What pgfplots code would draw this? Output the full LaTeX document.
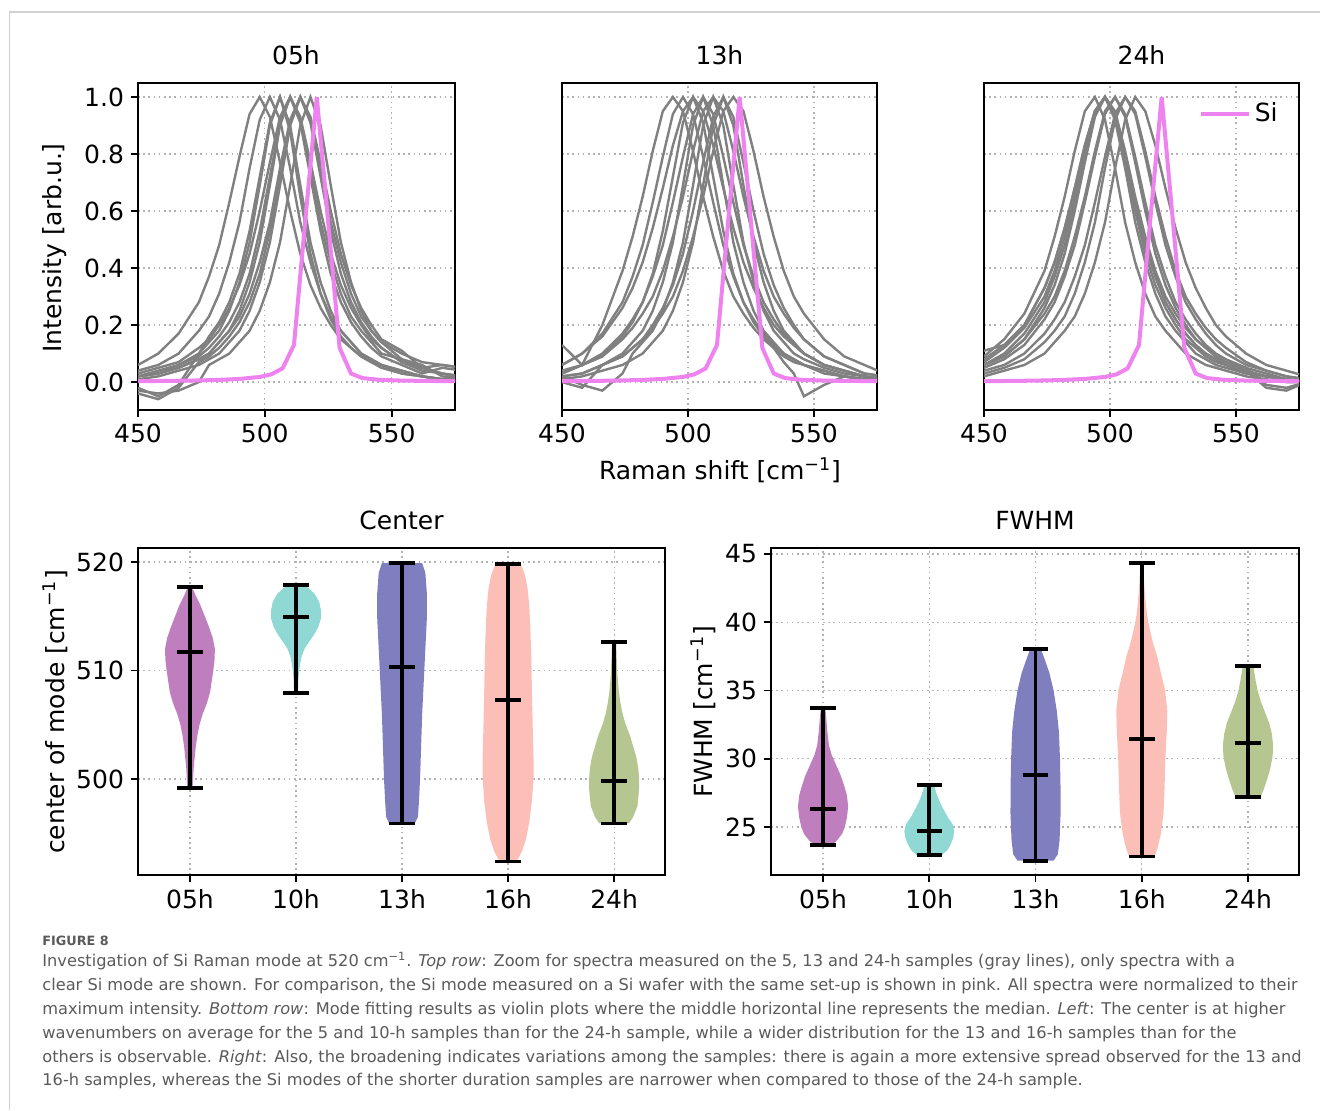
\documentclass[border=0pt]{standalone}
\usepackage{fontspec}
\setmainfont{DejaVu Sans}
\usepackage{pgfplots}
\usepackage{pgfplotstable}
\pgfplotsset{compat=1.18}

\definecolor{vpurple}{RGB}{191,127,191}
\definecolor{vteal}{RGB}{143,216,212}
\definecolor{vnavy}{RGB}{127,127,191}
\definecolor{vsalmon}{RGB}{252,191,184}
\definecolor{volive}{RGB}{181,198,145}
\definecolor{siviolet}{RGB}{238,130,238}
\definecolor{capgray}{RGB}{90,90,90}

\newcommand\fs{\fontsize{12.5}{15}\selectfont}
\newcommand\capfs{\fontsize{8.1}{10}\selectfont}

% spectra: one row per spectrum, transposed below
\pgfplotstableread{
x 450 458 466 474 478 482 486 490 494 498 502 506 510 514 518 522 526 530 534 538 542 546 554 562 570 578
A1 0.06 0.10 0.17 0.28 0.37 0.48 0.63 0.79 0.94 1 0.93 0.77 0.60 0.45 0.34 0.26 0.20 0.15 0.12 0.09 0.07 0.06 0.03 0.02 0.01 0.00
A2 0.04 0.06 0.10 0.18 0.23 0.31 0.42 0.56 0.75 0.92 1 0.92 0.75 0.56 0.42 0.31 0.23 0.18 0.14 0.10 0.08 0.06 0.04 0.02 0.01 0.00
A3 -0.02 -0.05 -0.01 0.10 0.16 0.21 0.28 0.38 0.53 0.72 0.91 1 0.88 0.65 0.45 0.31 0.22 0.16 0.12 0.09 0.07 0.05 0.03 0.02 0.01 0.00
A4 0.02 0.03 0.06 0.09 0.12 0.16 0.21 0.28 0.38 0.53 0.72 0.91 1 0.91 0.72 0.53 0.38 0.28 0.21 0.16 0.12 0.09 0.06 0.03 0.05 0.04
A5 0.03 0.05 0.07 0.12 0.15 0.20 0.26 0.34 0.45 0.60 0.77 0.93 1 0.93 0.77 0.60 0.45 0.34 0.26 0.20 0.15 0.12 0.07 0.05 0.06 0.05
A6 0.02 0.03 0.05 0.08 0.10 0.14 0.18 0.25 0.35 0.49 0.69 0.90 1 0.92 0.75 0.56 0.42 0.31 0.23 0.18 0.14 0.10 0.08 0.06 0.02 0.01
A7 -0.04 -0.06 -0.02 0.07 0.09 0.12 0.16 0.21 0.28 0.38 0.53 0.72 0.91 1 0.91 0.72 0.53 0.38 0.28 0.21 0.16 0.12 0.07 0.04 0.03 0.01
A8 0.01 0.02 0.04 0.06 0.08 0.10 0.14 0.18 0.25 0.35 0.49 0.69 0.90 1 0.93 0.77 0.60 0.45 0.34 0.26 0.20 0.15 0.11 0.05 0.03 0.02
A9 0.02 0.03 0.05 0.08 0.10 0.14 0.18 0.23 0.31 0.42 0.56 0.75 0.92 1 0.92 0.75 0.56 0.42 0.31 0.23 0.18 0.14 0.10 0.07 0.06 0.05
A10 -0.03 -0.04 -0.03 0.00 0.06 0.08 0.10 0.14 0.18 0.25 0.35 0.49 0.69 0.90 1 0.90 0.69 0.49 0.35 0.25 0.18 0.14 0.08 0.05 0.03 0.02
A11 0.02 0.04 0.06 0.10 0.14 0.18 0.25 0.35 0.49 0.69 0.90 1 0.90 0.69 0.49 0.35 0.25 0.18 0.14 0.10 0.08 0.06 0.04 0.02 0.01 0.01
}\rawA
\pgfplotstabletranspose[colnames from=x]\specA\rawA

\pgfplotstableread{
x 450 458 466 474 478 482 486 490 494 498 502 506 510 514 518 522 526 530 534 538 542 546 554 562 570 578
B1 0.13 0.06 0.20 0.39 0.51 0.65 0.81 0.95 1 0.95 0.81 0.65 0.51 0.39 0.30 0.24 0.19 0.15 0.12 0.09 0.07 0.06 0.03 0.02 0.01 0.00
B2 0.06 0.10 0.17 0.28 0.37 0.48 0.63 0.79 0.94 1 0.94 0.79 0.63 0.48 0.37 0.28 0.22 0.17 0.13 0.10 0.08 0.06 0.04 0.02 0.01 0.00
B3 0.06 0.10 0.16 0.26 0.33 0.42 0.54 0.68 0.83 0.95 1 0.95 0.83 0.68 0.54 0.42 0.33 0.26 0.20 0.16 0.13 0.10 0.06 0.04 0.02 0.01
B4 0.03 0.06 0.09 0.16 0.21 0.28 0.38 0.53 0.72 0.91 1 0.91 0.72 0.53 0.38 0.28 0.21 0.16 0.12 0.07 0.03 -0.05 -0.01 0.02 0.01 0.00
B5 0.04 0.06 0.10 0.17 0.22 0.28 0.37 0.48 0.63 0.79 0.94 1 0.94 0.79 0.63 0.48 0.37 0.28 0.22 0.17 0.13 0.10 0.06 0.04 0.02 0.01
B6 0.00 -0.02 0.06 0.10 0.14 0.18 0.25 0.35 0.49 0.69 0.90 1 0.90 0.69 0.49 0.35 0.25 0.18 0.14 0.10 0.08 0.06 0.04 0.02 0.01 0.01
B7 0.03 0.06 0.09 0.15 0.19 0.24 0.30 0.39 0.51 0.65 0.81 0.95 1 0.95 0.81 0.65 0.51 0.39 0.30 0.24 0.19 0.15 0.09 0.06 0.03 0.02
B8 0.02 -0.01 -0.03 0.03 0.10 0.14 0.18 0.25 0.35 0.49 0.69 0.90 1 0.90 0.69 0.49 0.35 0.25 0.18 0.14 0.10 0.08 0.05 0.03 0.02 0.01
B9 0.02 0.03 0.06 0.09 0.12 0.15 0.20 0.26 0.34 0.45 0.60 0.77 0.93 1 0.93 0.77 0.60 0.45 0.34 0.26 0.20 0.15 0.09 0.06 0.03 0.02
B10 0.02 0.03 0.06 0.09 0.12 0.15 0.19 0.24 0.30 0.39 0.51 0.65 0.81 0.95 1 0.95 0.81 0.65 0.51 0.39 0.30 0.24 0.15 0.09 0.06 0.03
B11 0.01 0.02 0.04 0.06 0.08 0.10 0.14 0.18 0.25 0.35 0.49 0.69 0.90 1 0.90 0.69 0.49 0.35 0.25 0.18 0.14 0.10 0.06 0.04 0.02 0.01
}\rawB
\pgfplotstabletranspose[colnames from=x]\specB\rawB

\pgfplotstableread{
x 450 458 466 474 478 482 486 490 494 498 502 506 510 514 518 522 526 530 534 538 542 546 554 562 570 578
C1 0.09 0.15 0.24 0.39 0.51 0.65 0.81 0.95 1 0.92 0.75 0.56 0.42 0.31 0.23 0.18 0.14 0.10 0.08 0.06 0.05 0.04 0.02 0.01 0.00 0.00
C2 0.08 0.13 0.20 0.33 0.42 0.54 0.68 0.83 0.95 1 0.93 0.77 0.60 0.45 0.34 0.26 0.20 0.15 0.12 0.09 0.07 0.06 0.03 0.02 0.01 0.00
C3 0.07 0.12 0.19 0.30 0.39 0.51 0.65 0.81 0.95 1 0.94 0.79 0.63 0.48 0.37 0.28 0.22 0.17 0.13 0.10 0.08 0.06 0.04 -0.02 -0.03 0.00
C4 0.06 0.10 0.17 0.28 0.37 0.48 0.63 0.79 0.94 1 0.92 0.75 0.56 0.42 0.31 0.23 0.18 0.14 0.10 0.08 0.06 0.05 0.03 0.02 0.01 0.00
C5 0.11 0.13 0.20 0.33 0.42 0.54 0.68 0.83 0.95 1 0.95 0.81 0.65 0.51 0.39 0.30 0.24 0.19 0.15 0.12 0.09 0.07 0.04 0.02 0.01 0.00
C6 0.06 0.09 0.15 0.24 0.30 0.39 0.51 0.65 0.81 0.95 1 0.93 0.77 0.60 0.45 0.34 0.26 0.20 0.15 0.12 0.09 0.07 0.05 0.03 0.01 0.00
C7 0.05 0.08 0.13 0.22 0.28 0.37 0.48 0.63 0.79 0.94 1 0.94 0.79 0.63 0.48 0.37 0.28 0.22 0.17 0.13 0.10 0.08 0.05 -0.01 -0.02 0.00
C8 0.06 0.09 0.15 0.26 0.34 0.45 0.60 0.77 0.93 1 0.94 0.79 0.63 0.48 0.37 0.28 0.22 0.17 0.13 0.10 0.08 0.06 0.04 0.02 0.01 0.00
C9 0.03 0.05 0.08 0.14 0.18 0.23 0.31 0.42 0.56 0.75 0.92 1 0.95 0.81 0.65 0.51 0.39 0.30 0.24 0.19 0.15 0.12 0.07 0.04 0.02 0.01
C10 0.04 0.06 0.10 0.17 0.22 0.28 0.37 0.48 0.63 0.79 0.94 1 0.94 0.79 0.63 0.48 0.37 0.28 0.22 0.17 0.13 0.10 0.06 0.04 0.02 0.01
C11 0.02 0.04 0.06 0.10 0.14 0.18 0.23 0.31 0.42 0.56 0.75 0.92 1 0.95 0.83 0.68 0.54 0.42 0.33 0.26 0.20 0.16 0.10 0.06 0.04 0.02
}\rawC
\pgfplotstabletranspose[colnames from=x]\specC\rawC

% Si wafer reference
\pgfplotstableread{
x y
450 0.003
460 0.004
470 0.005
480 0.007
490 0.011
498 0.018
502.5 0.027
507 0.048
511.5 0.13
516 0.57
520.5 1.0
525 0.56
529.5 0.12
534 0.03
538.5 0.014
545 0.008
555 0.005
565 0.004
575 0.003
}\siref

% violin outlines: y, half width (closed on the centre line at both ends)
\pgfplotstableread{
y w
499.2 0
499.2 0.025
500.0 0.03
501.0 0.035
502.0 0.045
503.0 0.055
504.0 0.07
505.0 0.09
506.0 0.12
507.0 0.16
508.0 0.19
509.0 0.205
510.0 0.22
511.0 0.232
512.0 0.235
513.0 0.215
514.0 0.18
515.0 0.14
516.0 0.10
517.0 0.05
517.7 0.02
517.7 0
}\vcA
\pgfplotstableread{
y w
507.9 0
507.9 0.02
509.0 0.022
510.0 0.03
511.2 0.05
512.0 0.08
512.6 0.12
513.3 0.17
514.0 0.21
514.8 0.235
515.5 0.236
516.3 0.22
517.0 0.18
517.5 0.13
517.9 0.08
517.9 0
}\vcB
\pgfplotstableread{
y w
495.9 0
495.9 0.12
496.5 0.15
498 0.16
500 0.17
503 0.18
506 0.19
509 0.205
512 0.22
515 0.235
517 0.235
519 0.22
519.9 0.19
519.9 0
}\vcC
\pgfplotstableread{
y w
492.4 0
492.4 0.08
493.3 0.13
494.5 0.17
496 0.2
498 0.225
500 0.24
502 0.24
505 0.232
508 0.225
511 0.22
514 0.21
516 0.2
517.5 0.185
518.8 0.16
519.8 0.12
519.8 0
}\vcD
\pgfplotstableread{
y w
495.9 0
495.9 0.14
496.5 0.18
497.5 0.22
499 0.235
500 0.236
501 0.228
502 0.21
503 0.18
504 0.15
505 0.11
506 0.08
507 0.06
508 0.045
509.5 0.032
511 0.025
512.6 0.02
512.6 0
}\vcE

\pgfplotstableread{
y w
23.68 0
23.68 0.08
24.0 0.13
24.5 0.18
25.0 0.205
25.7 0.225
26.5 0.236
27.3 0.225
28.0 0.2
28.8 0.165
29.5 0.125
30.3 0.08
31.0 0.055
32.0 0.04
33.0 0.03
33.74 0.02
33.74 0
}\vfA
\pgfplotstableread{
y w
22.95 0
22.95 0.12
23.3 0.17
23.7 0.2
24.2 0.225
24.7 0.235
25.2 0.22
25.7 0.175
26.2 0.14
26.8 0.1
27.4 0.07
28.05 0.045
28.05 0
}\vfB
\pgfplotstableread{
y w
22.53 0
22.53 0.17
23.0 0.21
24.0 0.226
26.0 0.236
28.0 0.235
30.0 0.23
32.0 0.22
33.5 0.2
35.0 0.17
36.3 0.13
37.2 0.09
38.04 0.05
38.04 0
}\vfC
\pgfplotstableread{
y w
22.83 0
22.83 0.12
23.5 0.15
24.5 0.18
26 0.205
28 0.215
30 0.222
32 0.235
33.5 0.24
35 0.22
36.3 0.18
37.5 0.145
38.5 0.105
39.5 0.075
40.5 0.05
42 0.03
43.2 0.02
44.34 0.015
44.34 0
}\vfD
\pgfplotstableread{
y w
27.22 0
27.22 0.12
27.8 0.15
28.5 0.18
29.3 0.21
30.2 0.232
31.0 0.236
31.8 0.225
32.6 0.2
33.4 0.16
34.2 0.12
35.0 0.09
35.8 0.07
36.8 0.05
36.8 0
}\vfE

% #1 position, #2 colour, #3 outline table: right half and left half
\newcommand\violin[3]{%
  \addplot[fill=#2, draw=none, forget plot] table[x expr=#1+\thisrow{w}, y=y]{#3};
  \addplot[fill=#2, draw=none, forget plot] table[x expr=#1-\thisrow{w}, y=y]{#3};
}
% #1 position, #2 cap left, #3 cap right, #4 min, #5 median, #6 max
\newcommand\vstats[6]{%
  \addplot[vline] coordinates {(#1,#4) (#1,#6)};
  \addplot[vline] coordinates {(#2,#4) (#3,#4)};
  \addplot[vline] coordinates {(#2,#5) (#3,#5)};
  \addplot[vline] coordinates {(#2,#6) (#3,#6)};
}

\pgfplotsset{
  mpl/.style={
    scale only axis,
    axis line style={line width=1.1pt},
    tick align=outside,
    major tick length=3.5pt,
    every tick/.append style={black, line width=0.9pt},
    xtick pos=left, ytick pos=left,
    grid=major,
    major grid style={line width=0.6pt, black!30, dash pattern=on 0.8pt off 1.8pt},
    tick label style={font=\fs},
    /pgf/number format/assume math mode=true,
  },
  spec/.style={
    mpl, anchor=north west, height=163.5pt,
    xmin=450, xmax=575, ymin=-0.098, ymax=1.049,
    xtick={450,500,550}, ytick={0,0.2,0.4,0.6,0.8,1},
  },
  viol/.style={
    mpl, anchor=north west, height=163.5pt,
    xmin=0.51, xmax=5.48, xtick={1,2,3,4,5},
    xticklabels={05h,10h,13h,16h,24h},
  },
  gl/.style={color=gray, line width=1.2pt, forget plot},
  sil/.style={color=siviolet, line width=2pt},
  vline/.style={black, line width=1.9pt, forget plot},
}

\begin{document}
\begin{tikzpicture}
\useasboundingbox (0,0) rectangle (660pt,-555pt);
\draw[black!18, line width=0.8pt] (4.8pt,-555pt) -- (4.8pt,-6pt) -- (660pt,-6pt);

% top row
\begin{axis}[spec, at={(69pt,-41.5pt)}, width=158.5pt,
  yticklabel style={/pgf/number format/fixed, /pgf/number format/fixed zerofill, /pgf/number format/precision=1}]
\pgfplotsinvokeforeach{A1,A2,A3,A4,A5,A6,A7,A8,A9,A10,A11}{
  \addplot[gl] table[x=colnames, y=#1]{\specA};}
\addplot[sil] table[x=x, y=y]{\siref};
\end{axis}

\begin{axis}[spec, at={(281pt,-41.5pt)}, width=157.5pt,
  yticklabels={}, ytick style={draw=none}]
\pgfplotsinvokeforeach{B1,B2,B3,B4,B5,B6,B7,B8,B9,B10,B11}{
  \addplot[gl] table[x=colnames, y=#1]{\specB};}
\addplot[sil] table[x=x, y=y]{\siref};
\end{axis}

\begin{axis}[spec, at={(492pt,-41.5pt)}, width=157.5pt,
  yticklabels={}, ytick style={draw=none},
  legend style={at={(0.965,0.965)}, anchor=north east, draw=none, fill=none, font=\fs},
  legend image code/.code={\draw[#1] (0pt,0pt) -- (24pt,0pt);}]
\pgfplotsinvokeforeach{C1,C2,C3,C4,C5,C6,C7,C8,C9,C10,C11}{
  \addplot[gl] table[x=colnames, y=#1]{\specC};}
\addplot[sil] table[x=x, y=y]{\siref};
\addlegendentry{Si}
\end{axis}

% bottom row
\begin{axis}[viol, at={(69pt,-274pt)}, width=263.5pt,
  ymin=491.15, ymax=521.29, ytick={500,510,520}]
\violin{1}{vpurple}{\vcA}
\violin{2}{vteal}{\vcB}
\violin{3}{vnavy}{\vcC}
\violin{4}{vsalmon}{\vcD}
\violin{5}{volive}{\vcE}
\vstats{1}{0.88}{1.12}{499.2}{511.7}{517.7}
\vstats{2}{1.88}{2.12}{507.9}{514.9}{517.9}
\vstats{3}{2.88}{3.12}{495.9}{510.3}{519.9}
\vstats{4}{3.88}{4.12}{492.4}{507.3}{519.8}
\vstats{5}{4.88}{5.12}{495.9}{499.8}{512.6}
\end{axis}

\begin{axis}[viol, at={(385.5pt,-274pt)}, width=264pt,
  ymin=21.48, ymax=45.44, ytick={25,30,35,40,45}]
\violin{1}{vpurple}{\vfA}
\violin{2}{vteal}{\vfB}
\violin{3}{vnavy}{\vfC}
\violin{4}{vsalmon}{\vfD}
\violin{5}{volive}{\vfE}
\vstats{1}{0.88}{1.12}{23.68}{26.34}{33.74}
\vstats{2}{1.88}{2.12}{22.95}{24.73}{28.05}
\vstats{3}{2.88}{3.12}{22.53}{28.83}{38.04}
\vstats{4}{3.88}{4.12}{22.83}{31.42}{44.34}
\vstats{5}{4.88}{5.12}{27.22}{31.15}{36.8}
\end{axis}

% titles and labels
\begin{scope}[every node/.style={font=\fs, inner sep=0pt}]
\node at (148pt,-27.5pt) {05h};
\node at (359.75pt,-27.5pt) {13h};
\node at (570.75pt,-27.5pt) {24h};
\node at (200.75pt,-260pt) {Center};
\node at (517.5pt,-260pt) {FWHM};
\node at (360pt,-235pt) {Raman shift [cm\textsuperscript{−1}]};
\node[rotate=90] at (27.5pt,-124pt) {Intensity [arb.u.]};
\node[rotate=90] at (27.5pt,-356pt) {center of mode [cm\textsuperscript{−1}]};
\node[rotate=90] at (351.5pt,-356pt) {FWHM [cm\textsuperscript{−1}]};
\end{scope}

% caption
\begin{scope}[every node/.style={anchor=base west, inner sep=0pt, text=capgray, font=\capfs}]
\node at (21pt,-472.5pt) {\fontsize{6.4}{7}\selectfont\bfseries FIGURE 8};
\node at (21pt,-483pt) {Investigation of Si Raman mode at 520 cm\textsuperscript{−1}. \textit{Top row}: Zoom for spectra measured on the 5, 13 and 24-h samples (gray lines), only spectra with a};
\node at (21pt,-495pt) {clear Si mode are shown. For comparison, the Si mode measured on a Si wafer with the same set-up is shown in pink. All spectra were normalized to their};
\node at (21pt,-507pt) {maximum intensity. \textit{Bottom row}: Mode fitting results as violin plots where the middle horizontal line represents the median. \textit{Left}: The center is at higher};
\node at (21pt,-519pt) {wavenumbers on average for the 5 and 10-h samples than for the 24-h sample, while a wider distribution for the 13 and 16-h samples than for the};
\node at (21pt,-531pt) {others is observable. \textit{Right}: Also, the broadening indicates variations among the samples: there is again a more extensive spread observed for the 13 and};
\node at (21pt,-542.5pt) {16-h samples, whereas the Si modes of the shorter duration samples are narrower when compared to those of the 24-h sample.};
\end{scope}
\end{tikzpicture}
\end{document}
